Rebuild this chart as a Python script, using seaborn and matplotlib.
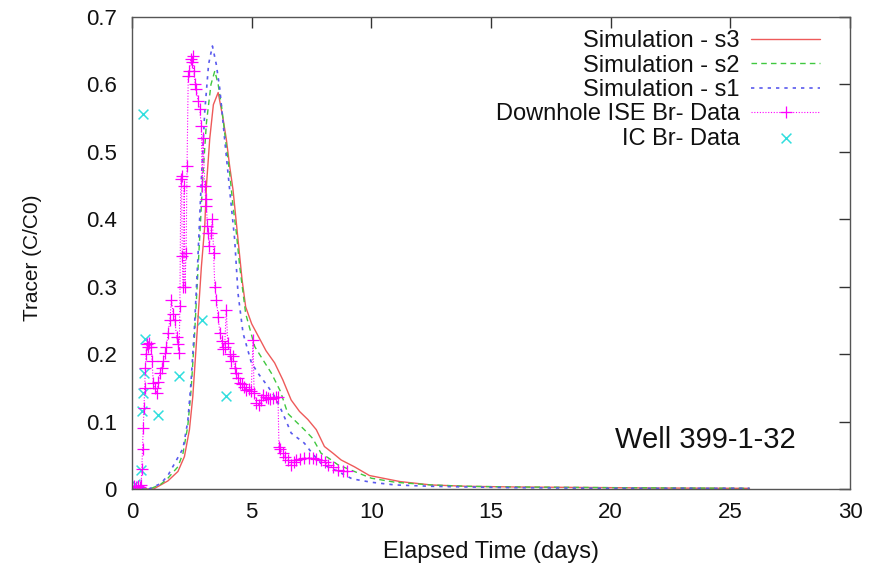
import numpy as np
import pandas as pd
import matplotlib
matplotlib.use("Agg")
import matplotlib.pyplot as plt
import seaborn as sns

# ---------------- data ----------------
s3_t = [0, 0.9, 1.5, 1.92, 2.19, 2.4, 2.54, 2.68, 2.9, 3.04, 3.11, 3.25, 3.4, 3.6, 3.8, 3.94,
        4.08, 4.22, 4.43, 4.6, 4.75, 5.0, 5.3, 5.6, 5.96, 6.3, 6.65, 7.0, 7.35, 7.7, 8.04,
        8.4, 8.74, 9.29, 9.92, 11.2, 12.5, 14, 16, 18, 20, 22, 25.8]
s3_v = [0, 0, 0.012, 0.026, 0.048, 0.088, 0.137, 0.211, 0.33, 0.39, 0.45, 0.52, 0.57, 0.588,
        0.55, 0.519, 0.479, 0.444, 0.37, 0.31, 0.27, 0.245, 0.225, 0.205, 0.187, 0.162,
        0.132, 0.115, 0.103, 0.088, 0.063, 0.053, 0.043, 0.033, 0.02, 0.011, 0.006, 0.004,
        0.003, 0.0025, 0.002, 0.0015, 0.001]

s2_t = [0, 0.75, 1.2, 1.5, 1.92, 2.13, 2.33, 2.47, 2.61, 2.75, 2.97, 3.11, 3.3, 3.46, 3.6,
        3.74, 3.9, 4.08, 4.22, 4.36, 4.5, 4.75, 5.13, 5.5, 5.82, 6.2, 6.51, 6.85, 7.2, 7.55,
        7.9, 8.25, 8.6, 9.15, 10, 11, 12.5, 14, 16, 20, 25.8]
s2_v = [0, 0, 0.007, 0.016, 0.033, 0.053, 0.093, 0.147, 0.226, 0.32, 0.469, 0.543, 0.6, 0.62,
        0.6, 0.568, 0.52, 0.469, 0.42, 0.38, 0.33, 0.26, 0.211, 0.19, 0.172, 0.145, 0.112,
        0.1, 0.088, 0.075, 0.053, 0.045, 0.036, 0.028, 0.016, 0.01, 0.006, 0.004, 0.003,
        0.002, 0.001]

s1_t = [0, 0.7, 1.2, 1.5, 1.86, 2.13, 2.33, 2.47, 2.61, 2.75, 2.9, 3.04, 3.2, 3.36, 3.52,
        3.67, 3.87, 4.08, 4.29, 4.43, 4.64, 4.99, 5.3, 5.68, 6.0, 6.24, 6.45, 6.65, 7.2,
        7.55, 7.9, 8.6, 9.2, 10, 11, 12.5, 14, 16, 20, 25.8]
s1_v = [0, 0, 0.008, 0.02, 0.043, 0.06, 0.1, 0.16, 0.24, 0.34, 0.46, 0.56, 0.63, 0.657, 0.63,
        0.593, 0.519, 0.444, 0.37, 0.29, 0.231, 0.187, 0.17, 0.152, 0.135, 0.117, 0.1,
        0.083, 0.068, 0.052, 0.038, 0.026, 0.015, 0.01, 0.006, 0.004, 0.003, 0.002, 0.001,
        0.001]

ise_t = [0.0, 0.08, 0.16, 0.24, 0.32, 0.38, 0.41, 0.44, 0.47, 0.5, 0.53, 0.56, 0.59, 0.62,
         0.67, 0.72, 0.78, 0.84, 0.89, 0.95, 1.03, 1.1, 1.17, 1.24, 1.31, 1.38, 1.44, 1.51,
         1.58, 1.65, 1.72, 1.79, 1.86, 1.92, 1.97, 2.0, 2.04, 2.07, 2.1, 2.14, 2.18, 2.21,
         2.26, 2.3, 2.35, 2.4, 2.45, 2.49, 2.53, 2.58, 2.64, 2.69, 2.76, 2.83, 2.9, 2.93,
         2.97, 3.04, 3.08, 3.11, 3.15, 3.18, 3.22, 3.29, 3.36, 3.41, 3.46, 3.53, 3.6, 3.67,
         3.74, 3.8, 3.87, 3.94, 4.0, 4.08, 4.15, 4.22, 4.29, 4.36, 4.43, 4.5, 4.6, 4.7, 4.78,
         4.88, 4.98, 5.06, 5.1, 5.2, 5.3, 5.4, 5.47, 5.58, 5.68, 5.78, 5.89, 6.0, 6.1, 6.14,
         6.2, 6.3, 6.4, 6.51, 6.65, 6.75, 6.86, 7.0, 7.2, 7.4, 7.55, 7.7, 7.9, 8.05, 8.18,
         8.4, 8.6, 8.8, 9.0]
ise_v = [0.003, 0.004, 0.003, 0.004, 0.003, 0.006, 0.03, 0.06, 0.09, 0.12, 0.15, 0.18, 0.2,
         0.215, 0.21, 0.216, 0.211, 0.19, 0.157, 0.15, 0.142, 0.158, 0.172, 0.18, 0.19,
         0.202, 0.21, 0.232, 0.25, 0.281, 0.26, 0.251, 0.226, 0.215, 0.202, 0.271, 0.46,
         0.464, 0.345, 0.3, 0.45, 0.3, 0.35, 0.479, 0.613, 0.62, 0.637, 0.633, 0.642, 0.62,
         0.6, 0.593, 0.575, 0.563, 0.538, 0.45, 0.52, 0.449, 0.43, 0.42, 0.39, 0.38, 0.36,
         0.38, 0.4, 0.35, 0.30, 0.281, 0.255, 0.232, 0.22, 0.207, 0.21, 0.266, 0.216, 0.2,
         0.19, 0.197, 0.18, 0.172, 0.165, 0.157, 0.155, 0.152, 0.147, 0.148, 0.145, 0.221,
         0.142, 0.127, 0.125, 0.132, 0.14, 0.137, 0.135, 0.133, 0.135, 0.136, 0.137, 0.063,
         0.06, 0.053, 0.047, 0.043, 0.036, 0.04, 0.043, 0.045, 0.046, 0.046, 0.046, 0.045,
         0.043, 0.04, 0.036, 0.032, 0.028, 0.027, 0.026]

ic_t = [0.12, 0.36, 0.42, 0.44, 0.47, 0.5, 0.54, 1.1, 1.97, 2.94, 3.94]
ic_v = [0.008, 0.028, 0.116, 0.556, 0.142, 0.172, 0.223, 0.11, 0.168, 0.25, 0.138]

labels = ["Simulation - s3", "Simulation - s2", "Simulation - s1",
          "Downhole ISE Br- Data", "IC Br- Data"]
x_ticks = [0, 5, 10, 15, 20, 25, 30]
y_ticks = [0, 0.1, 0.2, 0.3, 0.4, 0.5, 0.6, 0.7]

# ---------------- style ----------------
sns.set_theme(style="white")
plt.rcParams["font.family"] = ["Liberation Sans", "DejaVu Sans"]

fig = plt.figure(figsize=(8.88, 5.65), dpi=100)
ax = fig.add_axes([132 / 888, 1 - 489 / 565, (850 - 132) / 888, (489 - 17) / 565])

c_red = "#ee5a5a"
c_green = "#40c840"
c_blue = "#5a5aee"
c_mag = "#ff00ff"
c_cyan = "#30dede"

sns.lineplot(x=s3_t, y=s3_v, ax=ax, color=c_red, lw=1.0, sort=False, estimator=None,
             label=labels[0])
ax.lines[-1].set_linestyle("-")
sns.lineplot(x=s2_t, y=s2_v, ax=ax, color=c_green, lw=1.0, sort=False, estimator=None,
             label=labels[1])
ax.lines[-1].set_linestyle((0, (4, 3)))
sns.lineplot(x=s1_t, y=s1_v, ax=ax, color=c_blue, lw=1.2, sort=False, estimator=None,
             label=labels[2])
ax.lines[-1].set_linestyle((0, (2, 3)))
sns.lineplot(x=ise_t, y=ise_v, ax=ax, color=c_mag, lw=0.8, sort=False, estimator=None,
             label=labels[3])
ise_line = ax.lines[-1]
ise_line.set_linestyle((0, (1, 1.5)))
ise_line.set_marker("+")
ise_line.set_markersize(8)
ise_line.set_markeredgewidth(0.9)
ise_line.set_markeredgecolor(c_mag)
sns.scatterplot(x=ic_t, y=ic_v, ax=ax, color=c_cyan, marker="x", s=50, linewidth=1.1,
                label=labels[4])

ax.set_xlim(0, 30)
ax.set_ylim(0, 0.7)
ax.set_xticks(x_ticks)
ax.set_xticklabels([str(v) for v in x_ticks])
ax.set_yticks(y_ticks)
ax.set_yticklabels(["0" if v == 0 else f"{v:.1f}" for v in y_ticks])
ax.tick_params(axis="both", which="major", direction="in", length=8, width=1,
               color="#333333", top=True, right=True, labelsize=16,
               labelcolor="#111111")
ax.tick_params(axis="y", pad=11)
ax.tick_params(axis="x", pad=9)
for sp in ax.spines.values():
    sp.set_visible(True)
    sp.set_color("#555555")
    sp.set_linewidth(1.0)

ax.set_xlabel("Elapsed Time (days)", fontsize=17, color="#111111", labelpad=13)
ax.set_ylabel("Tracer (C/C0)", fontsize=15, color="#111111")
ax.yaxis.set_label_coords(-0.125, 0.49)

ax.text(0.799, 0.104, "Well 399-1-32", transform=ax.transAxes, ha="center", va="center",
        fontsize=21, color="#111111")

handles, labs = ax.get_legend_handles_labels()
leg = ax.legend(handles, labs, loc="upper right", bbox_to_anchor=(0.958, 0.972),
                frameon=False, markerfirst=False, fontsize=17, handlelength=2.9,
                handletextpad=0.5, labelspacing=0.1, borderaxespad=0.0,
                borderpad=0.0)
for col in leg._legend_handle_box.get_children():
    col.align = "right"
for t in leg.get_texts():
    t.set_color("#111111")

fig.savefig("out.png", dpi=100, facecolor="white")
